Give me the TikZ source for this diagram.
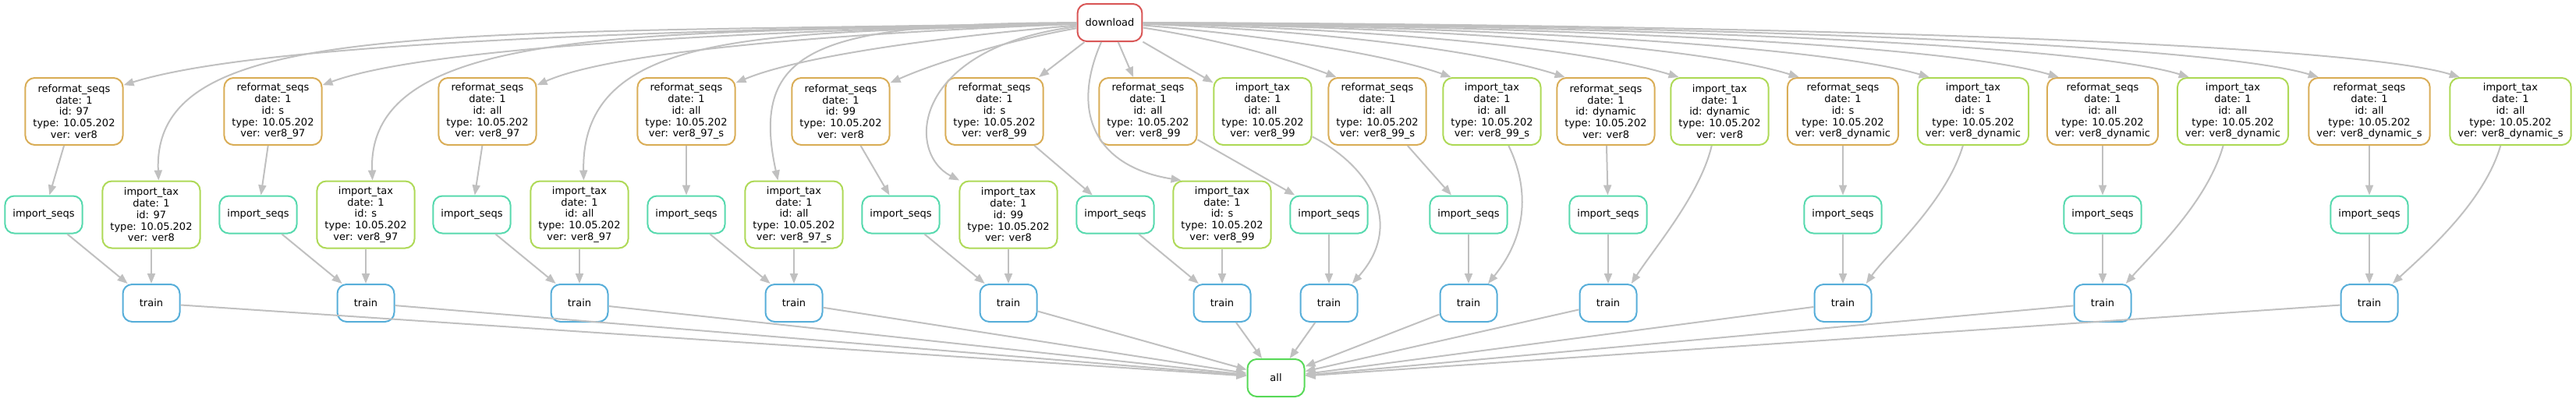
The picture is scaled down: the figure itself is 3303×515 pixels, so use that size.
\documentclass[tikz,border=0pt]{standalone}
\usepackage{fontspec}
\setmainfont{DejaVu Sans}
\usetikzlibrary{positioning,arrows.meta}

\definecolor{downloadcol}{RGB}{217,87,87}
\definecolor{reformatcol}{RGB}{217,173,87}
\definecolor{taxcol}{RGB}{174,217,87}
\definecolor{allcol}{RGB}{87,217,87}
\definecolor{seqscol}{RGB}{87,217,174}
\definecolor{traincol}{RGB}{87,174,217}
\definecolor{depcol}{RGB}{192,192,192}

\newcommand{\jobtext}[3]{#1\\date: 1\\id: #2\\type: 10.05.202\\ver: #3}

\tikzset{
  job/.style={draw, rounded corners=12pt, line width=2pt, align=center,
    inner xsep=10pt, inner ysep=4pt, minimum width=73pt, minimum height=48pt,
    font=\fontsize{13}{14.75}\selectfont},
  dljob/.style={job, draw=downloadcol},
  reformatjob/.style={job, draw=reformatcol, minimum height=86pt},
  taxjob/.style={job, draw=taxcol, minimum height=86pt},
  seqsjob/.style={job, draw=seqscol},
  trainjob/.style={job, draw=traincol},
  alljob/.style={job, draw=allcol},
  dep/.style={draw=depcol, line width=2pt, -{Triangle[length=13pt,width=10pt]}},
}

\begin{document}
\begin{tikzpicture}[x=1pt, y=1pt]
\path[use as bounding box] (0,0) rectangle (3303,-515);

\coordinate (toprow)   at (0,-143);
\coordinate (midrow)   at (0,-275.5);
\coordinate (trainrow) at (0,-389);

\node[dljob]       (download) at (1423,-29)  {download};
\node[alljob]      (all)      at (1636,-485) {all};

% reformat_seqs
\node[reformatjob] (r1)  at (95,-143)   {\jobtext{reformat\_seqs}{97}{ver8}};
\node[reformatjob] (r2)  at (350,-143)  {\jobtext{reformat\_seqs}{s}{ver8\_97}};
\node[reformatjob] (r3)  at (625,-143)  {\jobtext{reformat\_seqs}{all}{ver8\_97}};
\node[reformatjob] (r4)  at (880,-143)  {\jobtext{reformat\_seqs}{all}{ver8\_97\_s}};
\node[reformatjob] (r5)  at (1078,-143) {\jobtext{reformat\_seqs}{99}{ver8}};
\node[reformatjob] (r6)  at (1275,-143) {\jobtext{reformat\_seqs}{s}{ver8\_99}};
\node[reformatjob] (r7)  at (1472,-143) {\jobtext{reformat\_seqs}{all}{ver8\_99}};
\node[reformatjob] (r8)  at (1766,-143) {\jobtext{reformat\_seqs}{all}{ver8\_99\_s}};
\node[reformatjob] (r9)  at (2059,-143) {\jobtext{reformat\_seqs}{dynamic}{ver8}};
\node[reformatjob] (r10) at (2363,-143) {\jobtext{reformat\_seqs}{s}{ver8\_dynamic}};
\node[reformatjob] (r11) at (2696,-143) {\jobtext{reformat\_seqs}{all}{ver8\_dynamic}};
\node[reformatjob] (r12) at (3038,-143) {\jobtext{reformat\_seqs}{all}{ver8\_dynamic\_s}};

% import_tax
\node[taxjob]      (t1)  at (194,-275.5)  {\jobtext{import\_tax}{97}{ver8}};
\node[taxjob]      (t2)  at (469,-275.5)  {\jobtext{import\_tax}{s}{ver8\_97}};
\node[taxjob]      (t3)  at (743,-275.5)  {\jobtext{import\_tax}{all}{ver8\_97}};
\node[taxjob]      (t4)  at (1018,-275.5) {\jobtext{import\_tax}{all}{ver8\_97\_s}};
\node[taxjob]      (t5)  at (1293,-275.5) {\jobtext{import\_tax}{99}{ver8}};
\node[taxjob]      (t6)  at (1567,-275.5) {\jobtext{import\_tax}{s}{ver8\_99}};
\node[taxjob]      (t7)  at (1619,-143)   {\jobtext{import\_tax}{all}{ver8\_99}};
\node[taxjob]      (t8)  at (1913,-143)   {\jobtext{import\_tax}{all}{ver8\_99\_s}};
\node[taxjob]      (t9)  at (2205,-143)   {\jobtext{import\_tax}{dynamic}{ver8}};
\node[taxjob]      (t10) at (2530,-143)   {\jobtext{import\_tax}{s}{ver8\_dynamic}};
\node[taxjob]      (t11) at (2863,-143)   {\jobtext{import\_tax}{all}{ver8\_dynamic}};
\node[taxjob]      (t12) at (3219,-143)   {\jobtext{import\_tax}{all}{ver8\_dynamic\_s}};

% import_seqs
\node[seqsjob]     (s1)  at (56,-275.5)   {import\_seqs};
\node[seqsjob]     (s2)  at (331,-275.5)  {import\_seqs};
\node[seqsjob]     (s3)  at (605,-275.5)  {import\_seqs};
\node[seqsjob]     (s4)  at (880,-275.5)  {import\_seqs};
\node[seqsjob]     (s5)  at (1155,-275.5) {import\_seqs};
\node[seqsjob]     (s6)  at (1430,-275.5) {import\_seqs};
\node[seqsjob]     (s7)  at (1704,-275.5) {import\_seqs};
\node[seqsjob]     (s8)  at (1883,-275.5) {import\_seqs};
\node[seqsjob]     (s9)  at (2062,-275.5) {import\_seqs};
\node[seqsjob]     (s10) at (2363,-275.5) {import\_seqs};
\node[seqsjob]     (s11) at (2696,-275.5) {import\_seqs};
\node[seqsjob]     (s12) at (3038,-275.5) {import\_seqs};

% train
\node[trainjob]    (tr1)  at (t1 |- trainrow)  {train};
\node[trainjob]    (tr2)  at (t2 |- trainrow)  {train};
\node[trainjob]    (tr3)  at (t3 |- trainrow)  {train};
\node[trainjob]    (tr4)  at (t4 |- trainrow)  {train};
\node[trainjob]    (tr5)  at (t5 |- trainrow)  {train};
\node[trainjob]    (tr6)  at (t6 |- trainrow)  {train};
\node[trainjob]    (tr7)  at (s7 |- trainrow)  {train};
\node[trainjob]    (tr8)  at (s8 |- trainrow)  {train};
\node[trainjob]    (tr9)  at (s9 |- trainrow)  {train};
\node[trainjob]    (tr10) at (s10 |- trainrow) {train};
\node[trainjob]    (tr11) at (s11 |- trainrow) {train};
\node[trainjob]    (tr12) at (s12 |- trainrow) {train};

% download -> reformat_seqs
\draw[dep] (download) .. controls (900,-38)  and (340,-52)  .. (r1.28);
\draw[dep] (download) .. controls (1050,-38) and (560,-55)  .. (r2.28);
\draw[dep] (download) .. controls (1150,-40) and (800,-60)  .. (r3.28);
\draw[dep] (download) .. controls (1230,-45) and (1030,-70) .. (r4.30);
\draw[dep] (download) .. controls (1300,-50) and (1200,-80) .. (r5.30);
\path (download) edge[dep] (r6);
\path (download) edge[dep] (r7);
\draw[dep] (download) .. controls (1560,-50) and (1650,-75) .. (r8.140);
\draw[dep] (download) .. controls (1700,-40) and (1900,-65) .. (r9.140);
\draw[dep] (download) .. controls (1860,-36) and (2180,-60) .. (r10.142);
\draw[dep] (download) .. controls (2020,-34) and (2500,-58) .. (r11.142);
\draw[dep] (download) .. controls (2180,-32) and (2830,-56) .. (r12.146);

% download -> import_tax
\draw[dep] (download) .. controls (550,-45)  and (195,-25)  .. (t1.78);
\draw[dep] (download) .. controls (850,-45)  and (470,-25)  .. (t2.79);
\draw[dep] (download) .. controls (1000,-45) and (745,-30)  .. (t3.83);
\draw[dep] (download) .. controls (1050,-30) and (960,-60)  .. (t4.115);
\draw[dep] (download) .. controls (1170,-60) and (1160,-195) .. (t5.145);
\draw[dep] (download) .. controls (1370,-150) and (1410,-215) .. (t6.140);
\path (download) edge[dep] (t7);
\draw[dep] (download) .. controls (1620,-45) and (1780,-70) .. (t8.140);
\draw[dep] (download) .. controls (1780,-38) and (2030,-62) .. (t9.140);
\draw[dep] (download) .. controls (1940,-35) and (2340,-60) .. (t10.142);
\draw[dep] (download) .. controls (2100,-33) and (2670,-57) .. (t11.142);
\draw[dep] (download) .. controls (2260,-31) and (3010,-55) .. (t12.146);

% reformat_seqs -> import_seqs
\path (r1)  edge[dep] (s1);
\path (r2)  edge[dep] (s2);
\path (r3)  edge[dep] (s3);
\path (r4)  edge[dep] (s4);
\path (r5)  edge[dep] (s5);
\path (r6)  edge[dep] (s6);
\path (r7)  edge[dep] (s7);
\path (r8)  edge[dep] (s8);
\path (r9)  edge[dep] (s9);
\path (r10) edge[dep] (s10);
\path (r11) edge[dep] (s11);
\path (r12) edge[dep] (s12);

% import_seqs -> train
\path (s1)  edge[dep] (tr1);
\path (s2)  edge[dep] (tr2);
\path (s3)  edge[dep] (tr3);
\path (s4)  edge[dep] (tr4);
\path (s5)  edge[dep] (tr5);
\path (s6)  edge[dep] (tr6);
\path (s7)  edge[dep] (tr7);
\path (s8)  edge[dep] (tr8);
\path (s9)  edge[dep] (tr9);
\path (s10) edge[dep] (tr10);
\path (s11) edge[dep] (tr11);
\path (s12) edge[dep] (tr12);

% import_tax -> train
\path (t1)  edge[dep] (tr1);
\path (t2)  edge[dep] (tr2);
\path (t3)  edge[dep] (tr3);
\path (t4)  edge[dep] (tr4);
\path (t5)  edge[dep] (tr5);
\path (t6)  edge[dep] (tr6);
\draw[dep] (t7)  .. controls (1760,-215) and (1800,-290) .. (tr7.40);
\draw[dep] (t8)  .. controls (1960,-240) and (1960,-300) .. (tr8.45);
\draw[dep] (t9)  .. controls (2180,-250) and (2120,-320) .. (tr9.40);
\draw[dep] (t10) .. controls (2495,-260) and (2420,-325) .. (tr10.40);
\draw[dep] (t11) .. controls (2830,-260) and (2760,-325) .. (tr11.40);
\draw[dep] (t12) .. controls (3185,-260) and (3110,-325) .. (tr12.40);

% train -> all
\path (tr1)  edge[dep] (all);
\path (tr2)  edge[dep] (all);
\path (tr3)  edge[dep] (all);
\path (tr4)  edge[dep] (all);
\path (tr5)  edge[dep] (all);
\path (tr6)  edge[dep] (all);
\path (tr7)  edge[dep] (all);
\path (tr8)  edge[dep] (all);
\path (tr9)  edge[dep] (all);
\path (tr10) edge[dep] (all);
\path (tr11) edge[dep] (all);
\path (tr12) edge[dep] (all);
\end{tikzpicture}
\end{document}
